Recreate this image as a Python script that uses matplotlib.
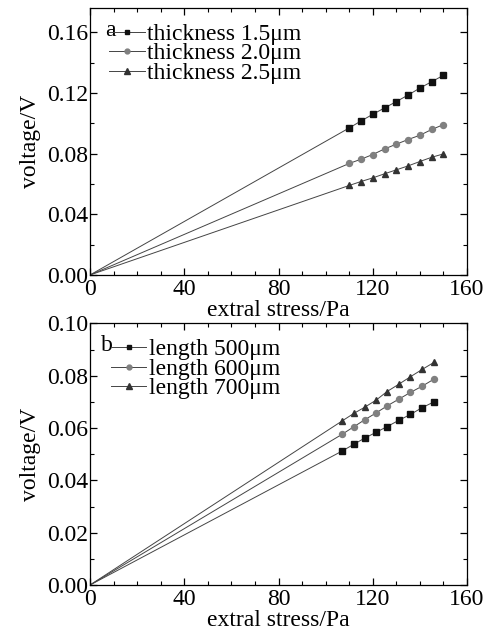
import matplotlib
matplotlib.use("Agg")
import matplotlib.pyplot as plt
from matplotlib.ticker import MultipleLocator, FuncFormatter

plt.rcParams["font.family"] = ["Liberation Serif", "DejaVu Serif"]

# ---- panel a: thickness ----
stress_a = [110, 115, 120, 125, 130, 135, 140, 145, 150]
v_t15 = [0.0969, 0.1015, 0.1059, 0.1101, 0.1143, 0.1186, 0.1232, 0.1274, 0.1316]
v_t20 = [0.0735, 0.0763, 0.0794, 0.0831, 0.0862, 0.0893, 0.0921, 0.0959, 0.0991]
v_t25 = [0.0590, 0.0616, 0.0640, 0.0667, 0.0693, 0.0719, 0.0748, 0.0776, 0.0798]
labels_a = ["thickness 1.5μm", "thickness 2.0μm", "thickness 2.5μm"]

# ---- panel b: length ----
stress_b = [107, 112, 116.5, 121.5, 126, 131, 136, 141, 146]
v_l500 = [0.0512, 0.0538, 0.0561, 0.0584, 0.0605, 0.0629, 0.0652, 0.0678, 0.0700]
v_l600 = [0.0576, 0.0605, 0.0631, 0.0658, 0.0684, 0.0710, 0.0736, 0.0760, 0.0787]
v_l700 = [0.0627, 0.0656, 0.0679, 0.0707, 0.0739, 0.0767, 0.0796, 0.0824, 0.0851]
labels_b = ["length 500μm", "length 600μm", "length 700μm"]

STYLES = [
    dict(marker="s", color="#111111", ms=4.0),
    dict(marker="o", color="#808080", ms=4.3),
    dict(marker="^", color="#333333", ms=5.0),
]
LINE_COLOR = "#444444"
FS = 17

fig = plt.figure(figsize=(4.88, 6.33), dpi=100)
ax_a = fig.add_axes([0.1844, 0.5656, 0.7726, 0.4218])
ax_b = fig.add_axes([0.1844, 0.0758, 0.7726, 0.4134])


def draw_panel(ax, xs, series, labels, tag, ylim, ymajor, yminor, leg_x, tag_x):
    handles = []
    for ys, st in zip(series, STYLES):
        # thin line from the origin through the measured points
        ax.plot([0] + xs, [0] + ys, color=LINE_COLOR, lw=0.7, zorder=2)
        ax.plot(xs, ys, linestyle="none", marker=st["marker"], ms=st["ms"],
                color=st["color"], mec=st["color"], zorder=3)
        h, = ax.plot([], [], color=LINE_COLOR, lw=0.7, marker=st["marker"],
                     ms=st["ms"] - 0.8, mfc=st["color"], mec=st["color"])
        handles.append(h)

    ax.set_xlim(0, 160)
    ax.set_ylim(*ylim)
    ax.xaxis.set_major_locator(MultipleLocator(40))
    ax.xaxis.set_minor_locator(MultipleLocator(10))
    ax.yaxis.set_major_locator(MultipleLocator(ymajor))
    ax.yaxis.set_minor_locator(MultipleLocator(yminor))
    ax.yaxis.set_major_formatter(FuncFormatter(lambda v, p: f"{v:.2f}"))
    ax.tick_params(which="both", direction="in", top=True, right=True,
                   labelsize=FS)
    ax.tick_params(axis="y", pad=1)
    ax.tick_params(axis="x", pad=3)
    ax.tick_params(which="major", length=5, width=0.9)
    ax.tick_params(which="minor", length=3, width=0.8)
    for sp in ax.spines.values():
        sp.set_linewidth(0.9)
    ax.set_xlabel("extral stress/Pa", fontsize=FS, labelpad=0)
    ax.set_ylabel("voltage/V", fontsize=FS, labelpad=5)

    ax.legend(handles, labels, loc="upper left", bbox_to_anchor=(leg_x, 1.0),
              frameon=False, fontsize=FS, handlelength=1.5, handletextpad=0.1,
              labelspacing=-0.08, borderaxespad=0.45, borderpad=0.2)
    ax.text(tag_x, 0.915, tag, transform=ax.transAxes, fontsize=FS,
            ha="left", va="center")


draw_panel(ax_a, stress_a, [v_t15, v_t20, v_t25], labels_a, "a",
           (0, 0.176), 0.04, 0.02, 0.01, 0.04)
draw_panel(ax_b, stress_b, [v_l500, v_l600, v_l700], labels_b, "b",
           (0, 0.10), 0.02, 0.01, 0.015, 0.03)

fig.savefig("out.png", dpi=100)
